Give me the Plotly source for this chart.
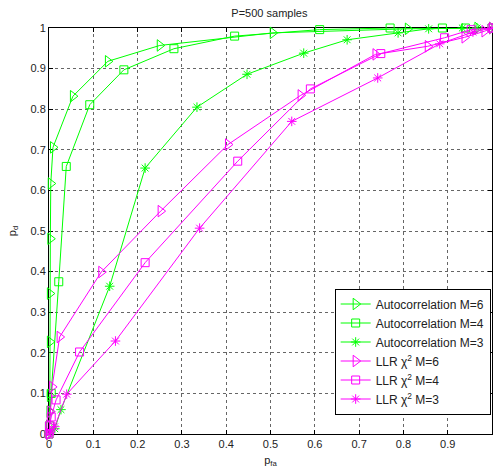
import plotly.graph_objects as go

# Autocorrelation curves (green)
ac6_x = [0, 0.0, 0.001, 0.002, 0.002, 0.002, 0.003, 0.004, 0.009, 0.054, 0.133, 0.25, 0.505, 0.81, 0.967, 1.0]
ac6_y = [0, 0.02, 0.055, 0.094, 0.227, 0.346, 0.481, 0.617, 0.706, 0.832, 0.918, 0.957, 0.988, 0.998, 1.0, 1.0]

ac4_x = [0, 0.001, 0.005, 0.022, 0.039, 0.092, 0.169, 0.282, 0.419, 0.611, 0.77, 0.888, 0.94, 1.0]
ac4_y = [0, 0.02, 0.10, 0.375, 0.659, 0.811, 0.897, 0.949, 0.980, 0.996, 1.0, 1.0, 1.0, 1.0]

ac3_x = [0, 0.013, 0.027, 0.137, 0.217, 0.334, 0.447, 0.575, 0.673, 0.788, 0.857, 0.933, 0.966, 1.0]
ac3_y = [0, 0.013, 0.060, 0.364, 0.655, 0.805, 0.886, 0.938, 0.971, 0.988, 0.998, 1.0, 1.0, 1.0]

# LLR chi^2 curves (magenta)
llr6_x = [0, 0.001, 0.003, 0.007, 0.024, 0.118, 0.252, 0.404, 0.568, 0.737, 0.855, 0.938, 0.983, 1.0]
llr6_y = [0, 0.02, 0.055, 0.116, 0.239, 0.399, 0.549, 0.713, 0.834, 0.935, 0.955, 0.977, 0.992, 1.0]

llr4_x = [0, 0.001, 0.005, 0.016, 0.069, 0.217, 0.426, 0.590, 0.749, 0.893, 0.953, 1.0]
llr4_y = [0, 0.02, 0.042, 0.084, 0.202, 0.422, 0.672, 0.850, 0.937, 0.976, 0.996, 1.0]

llr3_x = [0, 0.003, 0.013, 0.040, 0.150, 0.340, 0.548, 0.742, 0.882, 0.957, 1.0]
llr3_y = [0, 0.005, 0.018, 0.098, 0.229, 0.507, 0.770, 0.877, 0.961, 0.990, 1.0]

tick_vals = [0, 0.1, 0.2, 0.3, 0.4, 0.5, 0.6, 0.7, 0.8, 0.9, 1]
tick_text = ["0", "0.1", "0.2", "0.3", "0.4", "0.5", "0.6", "0.7", "0.8", "0.9", "1"]

GREEN = "#00ff00"
MAGENTA = "#ff00ff"

series = [
    ("Autocorrelation M=6", ac6_x, ac6_y, GREEN, "triangle-right-open", 10),
    ("Autocorrelation M=4", ac4_x, ac4_y, GREEN, "square-open", 8),
    ("Autocorrelation M=3", ac3_x, ac3_y, GREEN, "asterisk-open", 8),
    ("LLR χ<sup>2</sup> M=6", llr6_x, llr6_y, MAGENTA, "triangle-right-open", 10),
    ("LLR χ<sup>2</sup> M=4", llr4_x, llr4_y, MAGENTA, "square-open", 8),
    ("LLR χ<sup>2</sup> M=3", llr3_x, llr3_y, MAGENTA, "asterisk-open", 8),
]

fig = go.Figure()
for name, xs, ys, col, sym, sz in series:
    fig.add_trace(go.Scatter(
        x=xs, y=ys, name=name, mode="lines+markers",
        line=dict(color=col, width=1),
        marker=dict(symbol=sym, size=sz, color=col, line=dict(color=col, width=1)),
        cliponaxis=False,
    ))

font = "Liberation Sans, Arial, Helvetica, sans-serif"
axis_common = dict(
    range=[0, 1], tickvals=tick_vals, ticktext=tick_text,
    showline=True, linecolor="black", linewidth=1, mirror="ticks",
    ticks="inside", ticklen=4, tickcolor="black",
    showgrid=True, gridcolor="#666666", griddash="dot", gridwidth=1,
    zeroline=False, tickfont=dict(size=11, color="#222"),
    layer="below traces",
)

fig.update_layout(
    width=493, height=468,
    margin=dict(l=49, r=1, t=28, b=34),
    paper_bgcolor="white", plot_bgcolor="white",
    font=dict(family=font, size=11, color="#222"),
    title=dict(text="P=500 samples", x=0.5465, xanchor="center", y=0.972, yanchor="middle",
               font=dict(size=11, color="#222")),
    xaxis=dict(**axis_common, title=dict(text="p<sub>fa</sub>", standoff=7, font=dict(size=11))),
    yaxis=dict(**axis_common, title=dict(text="p<sub>d</sub>", standoff=11, font=dict(size=11))),
    legend=dict(x=0.997, y=0.048, xanchor="right", yanchor="bottom",
                bgcolor="white", bordercolor="black", borderwidth=1,
                font=dict(size=12, color="#222"), tracegroupgap=0, itemwidth=30),
    showlegend=True,
)

fig.write_html("out.html")
